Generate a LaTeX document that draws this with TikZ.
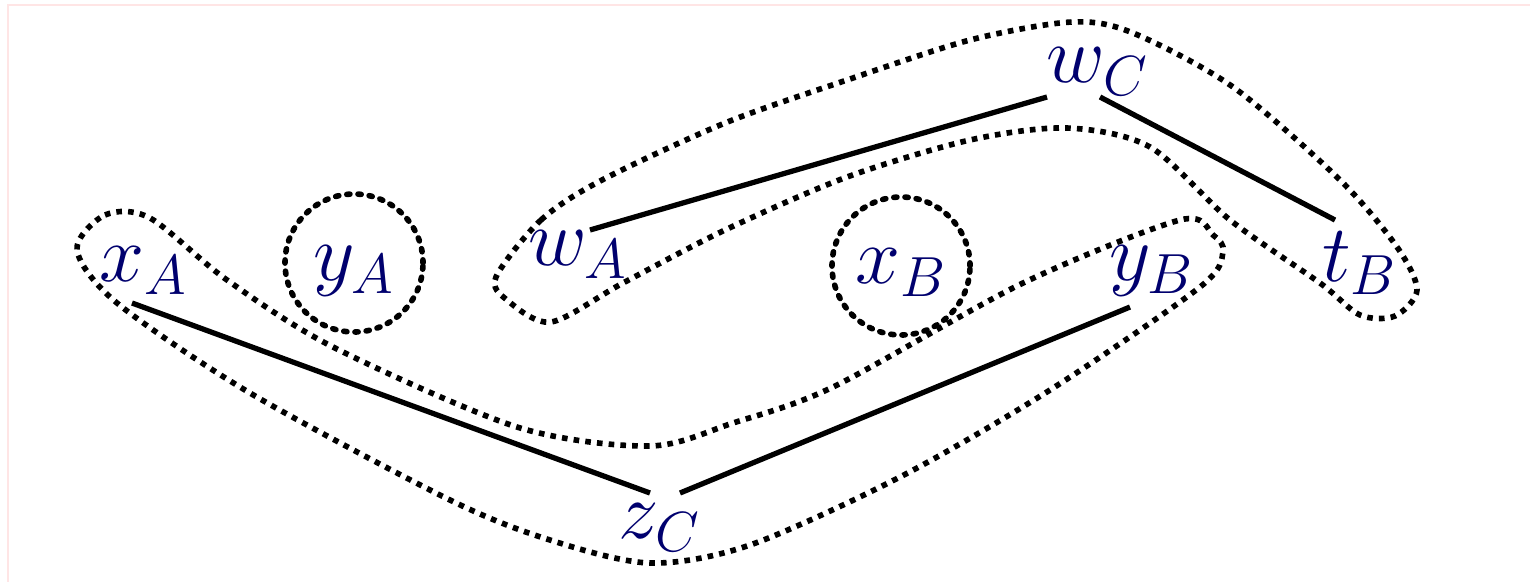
\documentclass[tikz,border=0pt]{standalone}
\DeclareFontShape{OML}{cmm}{m}{it}{<-6>cmmi5<6-7>cmmi6<7-8>cmmi7<8-9>cmmi8<9-10>cmmi9<10-12>cmmi10<12->cmmi12}{}
\definecolor{labblue}{RGB}{0,0,110}
\begin{document}
\begin{tikzpicture}[
  lab/.style={text=labblue,inner sep=0pt,anchor=base,font=\fontsize{23}{28}\selectfont},
  ring/.style={circle,draw,line width=1.6pt,dash pattern=on 0.9pt off 2.3pt,line cap=round,
    minimum size=1.38cm,inner sep=0pt,text depth=0pt,text=labblue,font=\fontsize{23}{28}\selectfont},
  link/.style={line width=1.5pt},
  blob/.style={line width=1.6pt,dash pattern=on 1.6pt off 1.75pt}]
\useasboundingbox (0,0) rectangle (15.3,5.82);
\draw[pink!40,line width=0.6pt] (0.08,0) -- (0.08,5.77) -- (15.3,5.77);
% the variables
\node[lab] (xA) at (1.44,3.01) {$x_A$};
\node[ring] (yA) at (3.54,3.19) {$y_A$};
\node[lab] (wA) at (5.78,3.17) {$w_A$};
\node[ring] (xB) at (9.01,3.16) {$x_B$};
\node[lab] (yB) at (11.52,3.02) {$y_B$};
\node[lab] (tB) at (13.60,3.01) {$t_B$};
\node[lab] (wC) at (10.98,5.00) {$w_C$};
\node[lab] (zC) at (6.60,0.44) {$z_C$};
% edges
\draw[link] ([shift={(-0.12,-0.22)}]xA.base) -- ([shift={(-0.10,0.45)}]zC.base);
\draw[link] ([shift={(0.20,0.45)}]zC.base) -- ([shift={(-0.22,-0.27)}]yB.base);
\draw[link] ([shift={(0.12,0.35)}]wA.base) -- ([shift={(-0.51,-0.15)}]wC.base);
\draw[link] ([shift={(0.02,-0.15)}]wC.base) -- ([shift={(-0.25,0.61)}]tB.base);
% groups
\draw[blob] plot[smooth cycle] coordinates {(0.77,3.32) (1.05,3.67) (1.50,3.64)
  (2.27,3.02) (3.33,2.35) (5.17,1.55) (6.50,1.36) (7.33,1.59) (8.33,1.95)
  (10.23,2.99) (11.80,3.62) (12.13,3.47) (12.23,3.30) (12.00,2.95)
  (10.50,1.92) (9.00,1.05) (7.50,0.37) (6.50,0.19) (5.50,0.42) (4.50,0.82)
  (2.50,1.89) (1.17,2.79)};
\draw[blob] plot[smooth cycle] coordinates {(4.96,3.05) (5.41,3.62) (6.02,4.02)
  (7.25,4.59) (8.47,5.02) (9.70,5.42) (10.72,5.60) (11.33,5.49) (12.33,4.95)
  (13.40,4.02) (13.97,3.35) (14.17,2.92) (13.95,2.66) (13.60,2.67) (13.20,2.99)
  (12.30,3.62) (11.50,4.35) (10.67,4.54) (9.70,4.42) (8.47,4.05) (7.25,3.52)
  (6.23,2.99) (5.51,2.60) (5.07,2.82)};
\end{tikzpicture}
\end{document}
